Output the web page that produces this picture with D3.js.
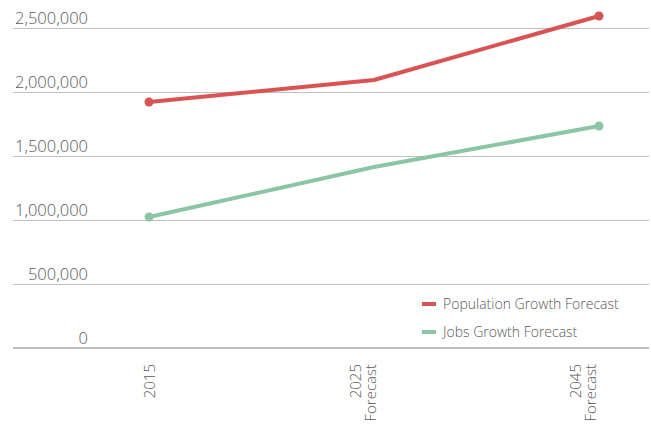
<!DOCTYPE html>
<html><head><meta charset="utf-8">
<script src="https://cdn.jsdelivr.net/npm/d3@7"></script>
<style>html,body{margin:0;padding:0;background:#fff;}svg{display:block;font-family:"Open Sans",sans-serif;font-weight:300;}</style>
</head><body><svg id="c" width="651" height="426"></svg>
<script>
const categories = ["2015", "2025\nForecast", "2045\nForecast"];
const populationValues = [1922000, 2094000, 2594000];
const jobsValues = [1023000, 1414000, 1734000];
const yTicks = [0, 500000, 1000000, 1500000, 2000000, 2500000];
const seriesNames = ["Population Growth Forecast", "Jobs Growth Forecast"];
const seriesColors = ["#da5354", "#8cc5a3"];

const svg = d3.select("#c");
const y = d3.scaleLinear().domain([0, 2500000]).range([348, 28]);
const x = d3.scalePoint().domain(categories).range([149, 599]);
const xLab = d3.scalePoint().domain(categories).range([150, 591]);
const fmt = d3.format(",");

// gridlines
svg.append("g").selectAll("line").data(yTicks.filter(d => d > 0)).join("line")
  .attr("x1", 13).attr("x2", 649)
  .attr("y1", d => Math.round(y(d)) + 0.5).attr("y2", d => Math.round(y(d)) + 0.5)
  .attr("stroke", "#bfbfbf").attr("stroke-width", 1);
// axis line
svg.append("line").attr("x1", 13).attr("x2", 649).attr("y1", y(0)).attr("y2", y(0))
  .attr("stroke", "#bfbfbf").attr("stroke-width", 2);

// y labels
svg.append("g").selectAll("text").data(yTicks).join("text")
  .attr("x", 88).attr("y", d => y(d) - 4)
  .attr("text-anchor", "end").attr("font-size", 16.5).attr("fill", "#595959")
  .text(d => fmt(d));

// x labels
const xl = svg.append("g");
categories.forEach(c => {
  const lines = c.split("\n");
  const n = lines.length;
  lines.forEach((ln, i) => {
    const cx = xLab(c) - (n - 1 - i) * 15;
    xl.append("text")
      .attr("transform", `translate(${cx + 5},364) rotate(-90)`)
      .attr("text-anchor", "end").attr("font-size", 15).attr("fill", "#595959")
      .text(ln);
  });
});

// lines
const series = [populationValues, jobsValues];
const line = d3.line().x((d, i) => x(categories[i])).y(d => y(d));
series.forEach((vals, s) => {
  svg.append("path").datum(vals).attr("d", line).attr("fill", "none")
    .attr("stroke", seriesColors[s]).attr("stroke-width", 4).attr("stroke-linejoin", "round");
  const ends = [0, vals.length - 1];
  svg.append("g").selectAll("circle").data(ends).join("circle")
    .attr("cx", i => x(categories[i])).attr("cy", i => y(vals[i])).attr("r", 4.5)
    .attr("fill", seriesColors[s]);
});

// legend
const lg = svg.append("g");
seriesNames.forEach((nm, i) => {
  const ly = 304 + i * 28;
  lg.append("line").attr("x1", 422).attr("x2", 436).attr("y1", ly).attr("y2", ly)
    .attr("stroke", seriesColors[i]).attr("stroke-width", 4);
  lg.append("text").attr("x", 443).attr("y", ly + 5).attr("font-size", 14)
    .attr("fill", "#595959").text(nm);
});
</script></body></html>
